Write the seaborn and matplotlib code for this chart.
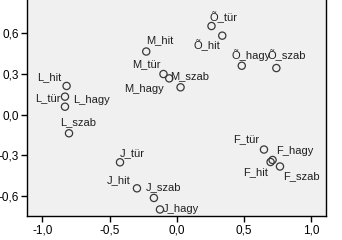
import matplotlib
matplotlib.use("Agg")
import matplotlib.pyplot as plt
import seaborn as sns
import pandas as pd

labels = ["L_hit", "L_tür", "L_hagy", "L_szab",
          "M_hit", "M_tür", "M_hagy", "M_szab",
          "Õ_tür", "Õ_hit", "Õ_hagy", "Õ_szab",
          "J_tür", "J_hit", "J_szab", "J_hagy",
          "F_tür", "F_hagy", "F_hit", "F_szab"]
dim1 = [-0.819, -0.831, -0.831, -0.801,
        -0.227, -0.099, -0.056, 0.028,
        0.258, 0.338, 0.483, 0.740,
        -0.422, -0.296, -0.170, -0.125,
        0.648, 0.712, 0.697, 0.767]
dim2 = [0.212, 0.133, 0.059, -0.137,
        0.466, 0.300, 0.268, 0.202,
        0.654, 0.583, 0.361, 0.344,
        -0.351, -0.543, -0.614, -0.699,
        -0.257, -0.334, -0.349, -0.382]
x_ticks = [-1.0, -0.5, 0.0, 0.5, 1.0]
y_ticks = [-0.6, -0.3, 0.0, 0.3, 0.6]

# label placement (ha, dx px, dy px)
label_pos = {
    "L_hit": ("right", -5, 8.7), "L_tür": ("right", -4, -1),
    "L_hagy": ("left", 7.7, 6.7), "L_szab": ("left", -9, 11),
    "M_hit": ("left", -0.5, 11), "M_tür": ("right", -3, 10),
    "M_hagy": ("right", -5, -10.7), "M_szab": ("left", -10, 11),
    "Õ_tür": ("left", -2, 9), "Õ_hit": ("right", -2.5, -9.3),
    "Õ_hagy": ("left", -10.7, 11), "Õ_szab": ("left", -8.6, 13),
    "J_tür": ("left", 0, 9), "J_hit": ("right", -6, 8),
    "J_szab": ("left", -8, 11), "J_hagy": ("left", 3.3, 0),
    "F_tür": ("right", -5, 10), "F_hagy": ("left", 4, 8.5),
    "F_hit": ("right", -2.5, -9.7), "F_szab": ("left", 2.7, -9.5),
}

df = pd.DataFrame({"label": labels, "d1": dim1, "d2": dim2})

sns.set_style("white")
plt.rcParams["font.family"] = ["Liberation Sans", "DejaVu Sans"]

fig = plt.figure(figsize=(3.42, 2.40), dpi=100)
ax = fig.add_axes([27.3 / 342, (240 - 215.7) / 240, (326 - 27.3) / 342, 215.7 / 240])
ax.set_facecolor("#f0f0f0")

sns.scatterplot(data=df, x="d1", y="d2", ax=ax, marker="o", s=27,
                facecolor="none", edgecolor="#383838", linewidth=0.9, zorder=3)

for lab, x, y in zip(labels, dim1, dim2):
    ha, dx, dy = label_pos[lab]
    ax.annotate(lab, (x, y), xytext=(dx, dy), textcoords="offset pixels",
                ha=ha, va="center", fontsize=8, color="#202020")

ax.set_xlim(-1.111, 1.109)
ax.set_ylim(-0.745, 0.846)
ax.set_xticks(x_ticks)
ax.set_yticks(y_ticks)
ax.set_xticklabels([f"{v:.1f}".replace(".", ",") for v in x_ticks])
ax.set_yticklabels([f"{v:.1f}".replace(".", ",") for v in y_ticks])
ax.tick_params(axis="both", direction="out", length=4, width=1, color="black",
               labelsize=8.5, labelcolor="black", pad=2)
ax.tick_params(axis="x", bottom=True)
ax.tick_params(axis="y", left=True)
ax.set_xlabel("")
ax.set_ylabel("")
for side in ["left", "bottom", "right"]:
    ax.spines[side].set_color("black")
    ax.spines[side].set_linewidth(1)
ax.spines["top"].set_visible(False)

fig.savefig("out.png", dpi=100)
